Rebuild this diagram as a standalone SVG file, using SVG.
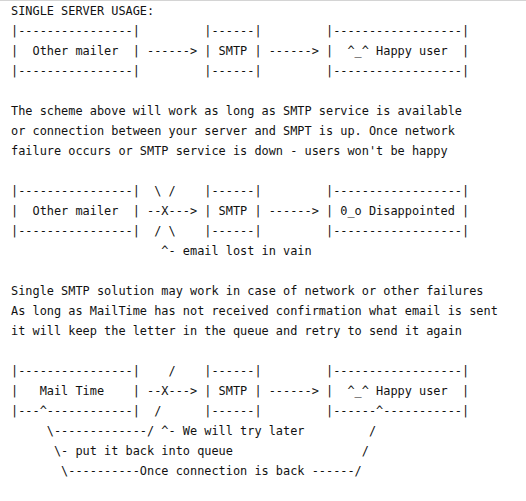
<svg xmlns="http://www.w3.org/2000/svg" width="526" height="501" viewBox="0 0 526 501" xml:space="preserve">
<style>
.t{font-family:"DejaVu Sans Mono","Liberation Mono",monospace;font-size:11.9px;fill:#111111;white-space:pre}
</style>
<rect x="0" y="0" width="526" height="501" fill="#ffffff"/>
<line x1="0" y1="0.5" x2="526" y2="0.5" stroke="#d4d4d4" stroke-width="1"/>
<g id="title">
<text class="t" x="11" y="15">SINGLE SERVER USAGE:</text>
</g>
<g id="diagram-single-server">
<text class="t" x="11" y="35">|----------------|         |------|         |------------------|</text>
<text class="t" x="11" y="55">|  Other mailer  | ------&gt; | SMTP | ------&gt; |  ^_^ Happy user  |</text>
<text class="t" x="11" y="75">|----------------|         |------|         |------------------|</text>
</g>
<g id="paragraph-1">
<text class="t" x="11" y="115">The scheme above will work as long as SMTP service is available</text>
<text class="t" x="11" y="135">or connection between your server and SMPT is up. Once network</text>
<text class="t" x="11" y="155">failure occurs or SMTP service is down - users won't be happy</text>
</g>
<g id="diagram-failure">
<text class="t" x="11" y="195">|----------------|  \ /    |------|         |------------------|</text>
<text class="t" x="11" y="215">|  Other mailer  | --X---&gt; | SMTP | ------&gt; | 0_o Disappointed |</text>
<text class="t" x="11" y="235">|----------------|  / \    |------|         |------------------|</text>
<text class="t" x="11" y="255">                     ^- email lost in vain</text>
</g>
<g id="paragraph-2">
<text class="t" x="11" y="295">Single SMTP solution may work in case of network or other failures</text>
<text class="t" x="11" y="315">As long as MailTime has not received confirmation what email is sent</text>
<text class="t" x="11" y="335">it will keep the letter in the queue and retry to send it again</text>
</g>
<g id="diagram-mailtime">
<text class="t" x="11" y="375">|----------------|    /    |------|         |------------------|</text>
<text class="t" x="11" y="395">|   Mail Time    | --X---&gt; | SMTP | ------&gt; |  ^_^ Happy user  |</text>
<text class="t" x="11" y="415">|---^------------|  /      |------|         |------^-----------|</text>
<text class="t" x="11" y="435">     \-------------/ ^- We will try later         /</text>
<text class="t" x="11" y="455">      \- put it back into queue                  /</text>
<text class="t" x="11" y="475">       \----------Once connection is back ------/</text>
</g>
</svg>
